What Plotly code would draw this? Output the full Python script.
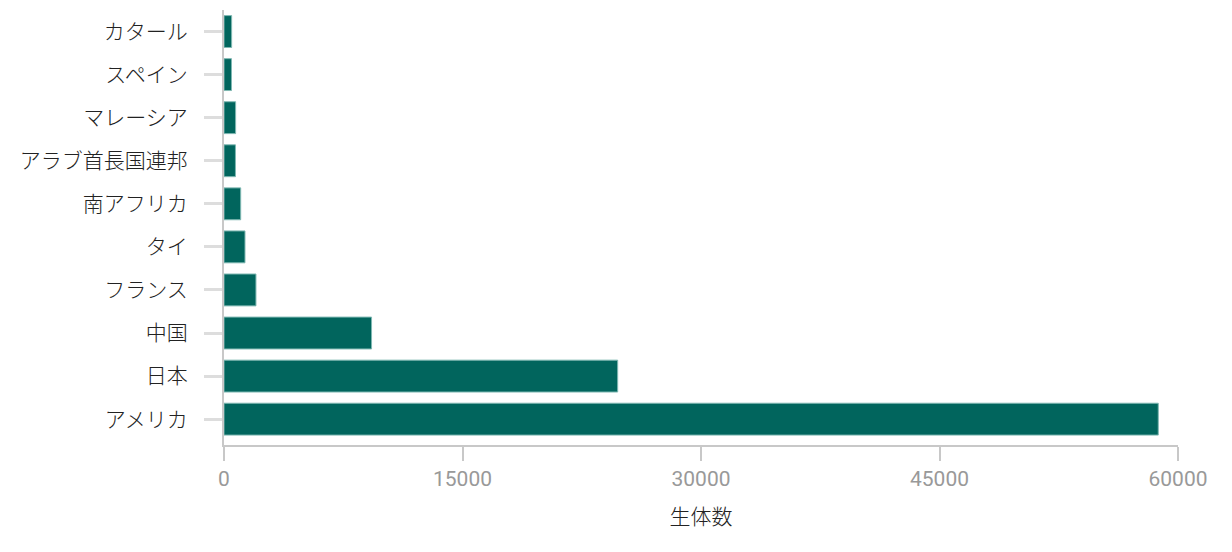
import plotly.graph_objects as go

# countries, bottom to top
countries = ["アメリカ", "日本", "中国", "フランス", "タイ", "南アフリカ",
             "アラブ首長国連邦", "マレーシア", "スペイン", "カタール"]
counts = [58760, 24760, 9280, 2010, 1320, 1050, 720, 730, 470, 480]

x_ticks = [0, 15000, 30000, 45000, 60000]
x_labels = ["0", "15000", "30000", "45000", "60000"]

fig = go.Figure()
fig.add_trace(go.Bar(
    x=counts, y=countries, orientation="h",
    marker=dict(color="#01655d", line=dict(color="#7fb8b2", width=1)),
))

# page body has an 8px margin, so margins are shifted by that
fig.update_layout(
    width=1232, height=552,
    margin=dict(l=216, r=62, t=2, b=115),
    plot_bgcolor="white", paper_bgcolor="white",
    bargap=0.26,
    showlegend=False,
    font=dict(family="Noto Sans CJK JP", size=20, color="#222"),
)
fig.update_xaxes(
    range=[0, 60000], tickvals=x_ticks, ticktext=x_labels,
    showgrid=False, zeroline=False,
    showline=True, linecolor="#c8c8c8", linewidth=2,
    ticks="outside", ticklen=14, tickwidth=2, tickcolor="#c8c8c8",
    tickfont=dict(family="Roboto", size=21, color="#999"),
    title=dict(text="生体数", font=dict(size=21, color="#222", weight=300), standoff=19),
)
fig.update_yaxes(
    categoryorder="array", categoryarray=countries,
    range=[-0.6, 9.5], showgrid=False, zeroline=False,
    showline=True, linecolor="#c8c8c8", linewidth=2,
    ticks="outside", ticklen=18, tickwidth=3, tickcolor="#dddddd",
    ticklabelstandoff=12,
    tickfont=dict(size=21, color="#222", weight=300),
)

fig.write_html("out.html")
